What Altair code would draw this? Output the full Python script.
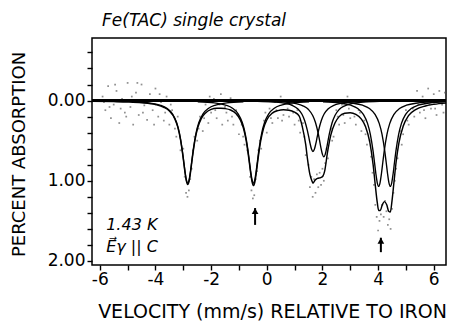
import altair as alt
import pandas as pd

# ---------------- data ----------------
TOTAL_X = [-6.28, -5.5, -5.0, -4.5, -4.0, -3.7, -3.5, -3.3, -3.2, -3.1, -3.0, -2.94, -2.89, -2.84,
           -2.79, -2.74, -2.68, -2.58, -2.48, -2.35, -2.2, -2.0, -1.8, -1.65, -1.5, -1.3, -1.1,
           -0.95, -0.84, -0.74, -0.64, -0.58, -0.53, -0.48, -0.43, -0.38, -0.32, -0.22, -0.12,
           0.0, 0.2, 0.4, 0.6, 0.8, 1.0, 1.16, 1.28, 1.40, 1.46, 1.55, 1.62, 1.66, 1.74, 1.82,
           1.94, 2.02, 2.08, 2.18, 2.30, 2.45, 2.6, 2.8, 3.0, 3.2, 3.4, 3.55, 3.7, 3.82, 3.9,
           3.97, 4.02, 4.08, 4.15, 4.23, 4.31, 4.38, 4.44, 4.5, 4.57, 4.65, 4.75, 4.9, 5.1,
           5.35, 5.7, 6.0, 6.44]
TOTAL_Y = [0.008, 0.013, 0.018, 0.028, 0.05, 0.084, 0.131, 0.231, 0.328, 0.487, 0.726, 0.891, 1.0, 1.046,
           1.004, 0.895, 0.731, 0.493, 0.338, 0.222, 0.154, 0.11, 0.095, 0.095, 0.1, 0.118, 0.164,
           0.241, 0.343, 0.499, 0.737, 0.902, 1.011, 1.06, 1.018, 0.909, 0.745, 0.507, 0.351,
           0.242, 0.156, 0.125, 0.115, 0.12, 0.145, 0.19, 0.33, 0.55, 0.72, 0.92, 1.0, 1.03, 0.99, 0.97,
           0.96, 0.94, 0.88, 0.65, 0.43, 0.28, 0.2, 0.158, 0.151, 0.172, 0.231, 0.326, 0.515, 0.796, 1.058,
           1.27, 1.37, 1.37, 1.30, 1.26, 1.30, 1.38, 1.39, 1.25, 1.018, 0.76, 0.524, 0.321, 0.185,
           0.112, 0.067, 0.047, 0.032]

L1_X = [-4.84, -4.24, -3.84, -3.59, -3.39, -3.24, -3.14, -3.04, -2.99, -2.94, -2.89, -2.84,
        -2.79, -2.74, -2.69, -2.64, -2.54, -2.44, -2.29, -2.09, -1.84, -1.44, -0.84]
L1_Y = [0.015, 0.029, 0.056, 0.096, 0.165, 0.273, 0.402, 0.608, 0.741, 0.878, 0.987, 1.03,
        0.987, 0.878, 0.741, 0.608, 0.402, 0.273, 0.165, 0.096, 0.056, 0.029, 0.015]
L2_X = [-2.48, -1.88, -1.48, -1.23, -1.03, -0.88, -0.78, -0.68, -0.63, -0.58, -0.53, -0.48,
        -0.43, -0.38, -0.33, -0.28, -0.18, -0.08, 0.07, 0.27, 0.52, 0.92, 1.52]
L2_Y = [0.015, 0.029, 0.056, 0.096, 0.165, 0.273, 0.402, 0.608, 0.741, 0.878, 0.987, 1.03,
        0.987, 0.878, 0.741, 0.608, 0.402, 0.273, 0.165, 0.096, 0.056, 0.029, 0.015]
L3_X = [-0.34, 0.26, 0.66, 0.91, 1.11, 1.26, 1.36, 1.46, 1.51, 1.56, 1.61, 1.66,
        1.71, 1.76, 1.81, 1.86, 1.96, 2.06, 2.21, 2.41, 2.66, 3.06, 3.66]
L3_Y = [0.009, 0.018, 0.035, 0.059, 0.102, 0.168, 0.248, 0.375, 0.457, 0.541, 0.608, 0.635,
        0.608, 0.541, 0.457, 0.375, 0.248, 0.168, 0.102, 0.059, 0.035, 0.018, 0.009]
L4_X = [0.05, 0.65, 1.05, 1.30, 1.50, 1.65, 1.75, 1.85, 1.90, 1.95, 2.00, 2.05,
        2.10, 2.15, 2.20, 2.25, 2.35, 2.45, 2.60, 2.80, 3.05, 3.45, 4.05]
L4_Y = [0.010, 0.020, 0.038, 0.065, 0.112, 0.186, 0.273, 0.413, 0.503, 0.596, 0.671, 0.70,
        0.671, 0.596, 0.503, 0.413, 0.273, 0.186, 0.112, 0.065, 0.038, 0.020, 0.010]
L5_X = [2.02, 2.62, 3.02, 3.27, 3.47, 3.62, 3.72, 3.82, 3.87, 3.92, 3.97, 4.02,
        4.07, 4.12, 4.17, 4.22, 4.32, 4.42, 4.57, 4.77, 5.02, 5.42, 6.02, 6.44]
L5_Y = [0.015, 0.030, 0.058, 0.100, 0.171, 0.284, 0.417, 0.631, 0.769, 0.912, 1.025, 1.07,
        1.025, 0.912, 0.769, 0.631, 0.417, 0.284, 0.171, 0.100, 0.058, 0.030, 0.015, 0.010]
L6_X = [2.44, 3.04, 3.44, 3.69, 3.89, 4.04, 4.14, 4.24, 4.29, 4.34, 4.39, 4.44,
        4.49, 4.54, 4.59, 4.64, 4.74, 4.84, 4.99, 5.19, 5.44, 5.84, 6.44]
L6_Y = [0.015, 0.030, 0.058, 0.100, 0.171, 0.284, 0.417, 0.631, 0.769, 0.912, 1.025, 1.07,
        1.025, 0.912, 0.769, 0.631, 0.417, 0.284, 0.171, 0.100, 0.058, 0.030, 0.015]

DOT_X = [-5.9, -5.8, -5.7, -5.6, -5.5, -5.4, -5.3, -5.2, -5.1, -5.0, -4.9, -4.8, -4.7, -4.6, -4.5,
         -4.4, -4.3, -4.2, -4.1, -4.0, -3.9, -3.8, -3.7, -3.6, -3.5, -3.4, -3.3, -3.2, -3.1, -3.0,
         -2.95, -2.9, -2.85, -2.8, -2.75, -2.7, -2.6, -2.5, -2.4, -2.3, -2.2, -2.1, -2.0, -1.9,
         -1.8, -1.7, -1.6, -1.5, -1.4, -1.3, -1.2, -1.1, -1.0, -0.9, -0.8, -0.7, -0.6, -0.55,
         -0.5, -0.45, -0.4, -0.35, -0.3, -0.2, -0.1, 0.0, 0.1, 0.2, 0.3, 0.4, 0.5, 0.6, 0.7, 0.8,
         0.9, 1.0, 1.1, 1.2, 1.3, 1.4, 1.5, 1.55, 1.6, 1.65, 1.7, 1.75, 1.8, 1.85, 1.9, 1.95, 2.0,
         2.05, 2.1, 2.2, 2.3, 2.4, 2.5, 2.6, 2.7, 2.8, 2.9, 3.0, 3.1, 3.2, 3.3, 3.4, 3.5, 3.6,
         3.7, 3.8, 3.85, 3.9, 3.95, 4.0, 4.05, 4.1, 4.15, 4.2, 4.25, 4.3, 4.35, 4.4, 4.45, 4.5,
         4.55, 4.6, 4.7, 4.8, 4.9, 5.0, 5.1, 5.2, 5.3, 5.4, 5.5, 5.6, 5.7, 5.8, 5.9, 6.0, 6.1,
         6.2, 6.3, 6.4,
         -5.85, -5.65, -5.45, -5.25, -5.05, -4.85, -4.65, -4.45, -4.25, -4.05, -3.85, -3.65,
         -3.45, -3.25, -2.65, -2.45, -2.25, -2.05, -1.85, -1.65, -1.45, -1.25, -1.05, -0.85,
         -0.25, -0.05, 0.15, 0.35, 0.55, 0.75, 0.95, 1.15, 1.35, 2.15, 2.35, 2.55, 2.75, 2.95,
         3.15, 3.35, 3.55, 3.75, 4.65, 4.85, 5.05, 5.25, 5.45, 5.65, 5.85, 6.05, 6.25, 6.35]
DOT_Y = [-0.05, 0.12, -0.18, 0.22, 0.05, -0.12, 0.28, -0.02, 0.15, -0.22, 0.08, 0.3, -0.1, 0.18, -0.2,
         0.06, 0.24, -0.08, 0.12, -0.15, 0.2, 0.02, 0.25, -0.05, 0.3, 0.12, 0.35, 0.2, 0.62, 0.6,
         0.95, 1.15, 1.2, 1.12, 0.98, 0.85, 0.45, 0.5, 0.2, 0.38, 0.05, 0.28, 0.15, -0.02,
         0.22, 0.05, 0.3, 0.08, 0.25, -0.03, 0.3, 0.12, 0.42, 0.3, 0.55, 0.62, 0.95, 1.12,
         1.22, 1.18, 0.98, 0.88, 0.62, 0.6, 0.25, 0.4, 0.1, 0.28, 0.02, 0.22, -0.05, 0.18, 0.0, 0.2,
         0.05, 0.3, 0.12, 0.4, 0.28, 0.68, 0.8, 1.08, 0.95, 1.2, 0.98, 1.15, 0.92, 1.08, 0.9, 1.05, 0.85,
         1.0, 0.78, 0.72, 0.35, 0.45, 0.12, 0.3, 0.05, 0.28, -0.05, 0.22, 0.0, 0.3, 0.12, 0.38, 0.25, 0.55,
         0.5, 0.9, 1.05, 1.3, 1.45, 1.62, 1.5, 1.42, 1.3, 1.45, 1.25, 1.38, 1.55, 1.48, 1.6, 1.35,
         1.15, 1.0, 0.72, 0.38, 0.42, 0.12, 0.3, 0.0, 0.2, -0.12, 0.15, -0.05, 0.22, -0.15, 0.1, -0.08, 0.18,
         -0.12, 0.05, -0.1,
         0.02, 0.08, -0.2, 0.1, 0.2, -0.05, -0.22, 0.15, 0.0, 0.3, -0.08, 0.15,
         0.05, 0.45, 0.62, 0.35, 0.22, -0.05, 0.12, -0.08, 0.15, 0.2, 0.18, 0.45,
         0.5, 0.15, 0.22, 0.12, 0.25, 0.1, 0.15, 0.25, 0.45, 0.6, 0.5, 0.2, 0.18, 0.1,
         0.2, 0.15, 0.42, 0.7, 0.85, 0.55, 0.25, 0.1, 0.05, 0.12, 0.05, 0.1, 0.0, 0.15]

ARROW_X = [-0.42, 4.10]
ARROW_TIP = [1.34, 1.71]
ARROW_TAIL = [1.55, 1.89]

X_TICKS = [-6, -5, -4, -3, -2, -1, 0, 1, 2, 3, 4, 5, 6]
Y_TICKS = [-0.6, -0.4, -0.2, 0.0, 0.2, 0.4, 0.6, 0.8, 1.0, 1.2, 1.4, 1.6, 1.8, 2.0]
X_DOMAIN = [-6.28, 6.44]
Y_DOMAIN = [-0.78, 2.05]

LABELS = ["Fe(TAC) single crystal", "1.43 K", "E\u20d7\u03b3 || C"]
LABEL_X = [-5.92, -5.77, -5.77]
LABEL_Y = [-0.93, 1.55, 1.83]

FONT = "DejaVu Sans"

# ---------------- tables ----------------
comp_rows = []
for name, xs, ys in [("L1", L1_X, L1_Y), ("L2", L2_X, L2_Y), ("L3", L3_X, L3_Y),
                     ("L4", L4_X, L4_Y), ("L5", L5_X, L5_Y), ("L6", L6_X, L6_Y)]:
    for i, (a, b) in enumerate(zip(xs, ys)):
        comp_rows.append({"v": a, "a": b, "curve": name, "i": i})
comp_df = pd.DataFrame(comp_rows)
total_df = pd.DataFrame({"v": TOTAL_X, "a": TOTAL_Y, "i": range(len(TOTAL_X))})
dots_df = pd.DataFrame({"v": DOT_X, "a": DOT_Y})
arrow_df = pd.DataFrame({"v": ARROW_X, "a": ARROW_TIP, "tail": ARROW_TAIL})
label_df = pd.DataFrame({"v": LABEL_X, "a": LABEL_Y, "t": LABELS})

xscale = alt.Scale(domain=X_DOMAIN, nice=False, zero=False)
yscale = alt.Scale(domain=Y_DOMAIN, nice=False, zero=False, reverse=True)

x_axis = alt.Axis(
    values=X_TICKS, labelExpr="(datum.value % 2 == 0) ? ('' + datum.value) : ''",
    title="VELOCITY (mm/s) RELATIVE TO IRON", grid=False, tickSize=5, tickWidth=1.4,
    tickColor="black", domain=False, labelFont=FONT, labelFontSize=17, labelColor="black",
    labelPadding=1, labelOverlap=False, labelFlush=False,
    titleFont=FONT, titleFontSize=19, titleFontWeight="normal", titleColor="black",
    titleX=180, titleY=46, titleAlign="center", titleBaseline="middle")
y_axis = alt.Axis(
    values=Y_TICKS,
    labelExpr="datum.value == 0 ? '0.00' : (datum.value == 1 ? '1.00' : (datum.value == 2 ? '2.00' : ''))",
    title="PERCENT ABSORPTION", grid=False, tickSize=5, tickWidth=1.4, tickColor="black",
    domain=False, labelFont=FONT, labelFontSize=17, labelColor="black", labelPadding=2,
    labelOverlap=False, labelFlush=False,
    titleFont=FONT, titleFontSize=18, titleFontWeight="normal", titleColor="black",
    titleX=-73, titleY=116, titleAlign="center", titleBaseline="middle", titleAngle=270)

X = alt.X("v:Q", scale=xscale, axis=x_axis)
Y = alt.Y("a:Q", scale=yscale, axis=y_axis)

dots = alt.Chart(dots_df).mark_square(size=3, color="#555", opacity=0.65).encode(x=X, y=Y)

base_rule = alt.Chart(total_df).mark_rule(color="black", strokeWidth=1.9).encode(
    y=alt.Y(datum=0, scale=yscale, axis=y_axis))

comps = alt.Chart(comp_df).mark_line(color="black", strokeWidth=1.35, interpolate="monotone").encode(
    x=X, y=Y, detail="curve:N", order="i:Q")

total = alt.Chart(total_df).mark_line(color="black", strokeWidth=1.45, interpolate="monotone").encode(
    x=X, y=Y, order="i:Q")

arrow_shaft = alt.Chart(arrow_df).mark_rule(color="black", strokeWidth=2).encode(
    x=X, y=Y, y2="tail:Q")
arrow_head = alt.Chart(arrow_df).mark_point(shape="triangle-up", filled=True, color="black",
                                            size=45, opacity=1, yOffset=3).encode(x=X, y=Y)

title_text = alt.Chart(label_df.iloc[[0]]).mark_text(
    font=FONT, fontSize=17, fontStyle="italic", align="left", baseline="alphabetic",
    color="black").encode(x=X, y=Y, text="t:N")
labels = alt.Chart(label_df.iloc[1:]).mark_text(
    font=FONT, fontSize=16, fontStyle="italic", align="left", baseline="middle",
    color="black").encode(x=X, y=Y, text="t:N")

chart = alt.layer(dots, base_rule, comps, total, arrow_shaft, arrow_head, title_text, labels).properties(
    width=354, height=227,
    autosize=alt.AutoSizeParams(type="none"),
    padding={"left": 92, "top": 38, "right": 12, "bottom": 58},
    background="white",
).configure_view(stroke="black", strokeWidth=1.5).configure_axis(labelOverlap=False)

chart.save("out.html", embed_options={"renderer": "svg", "actions": False})
